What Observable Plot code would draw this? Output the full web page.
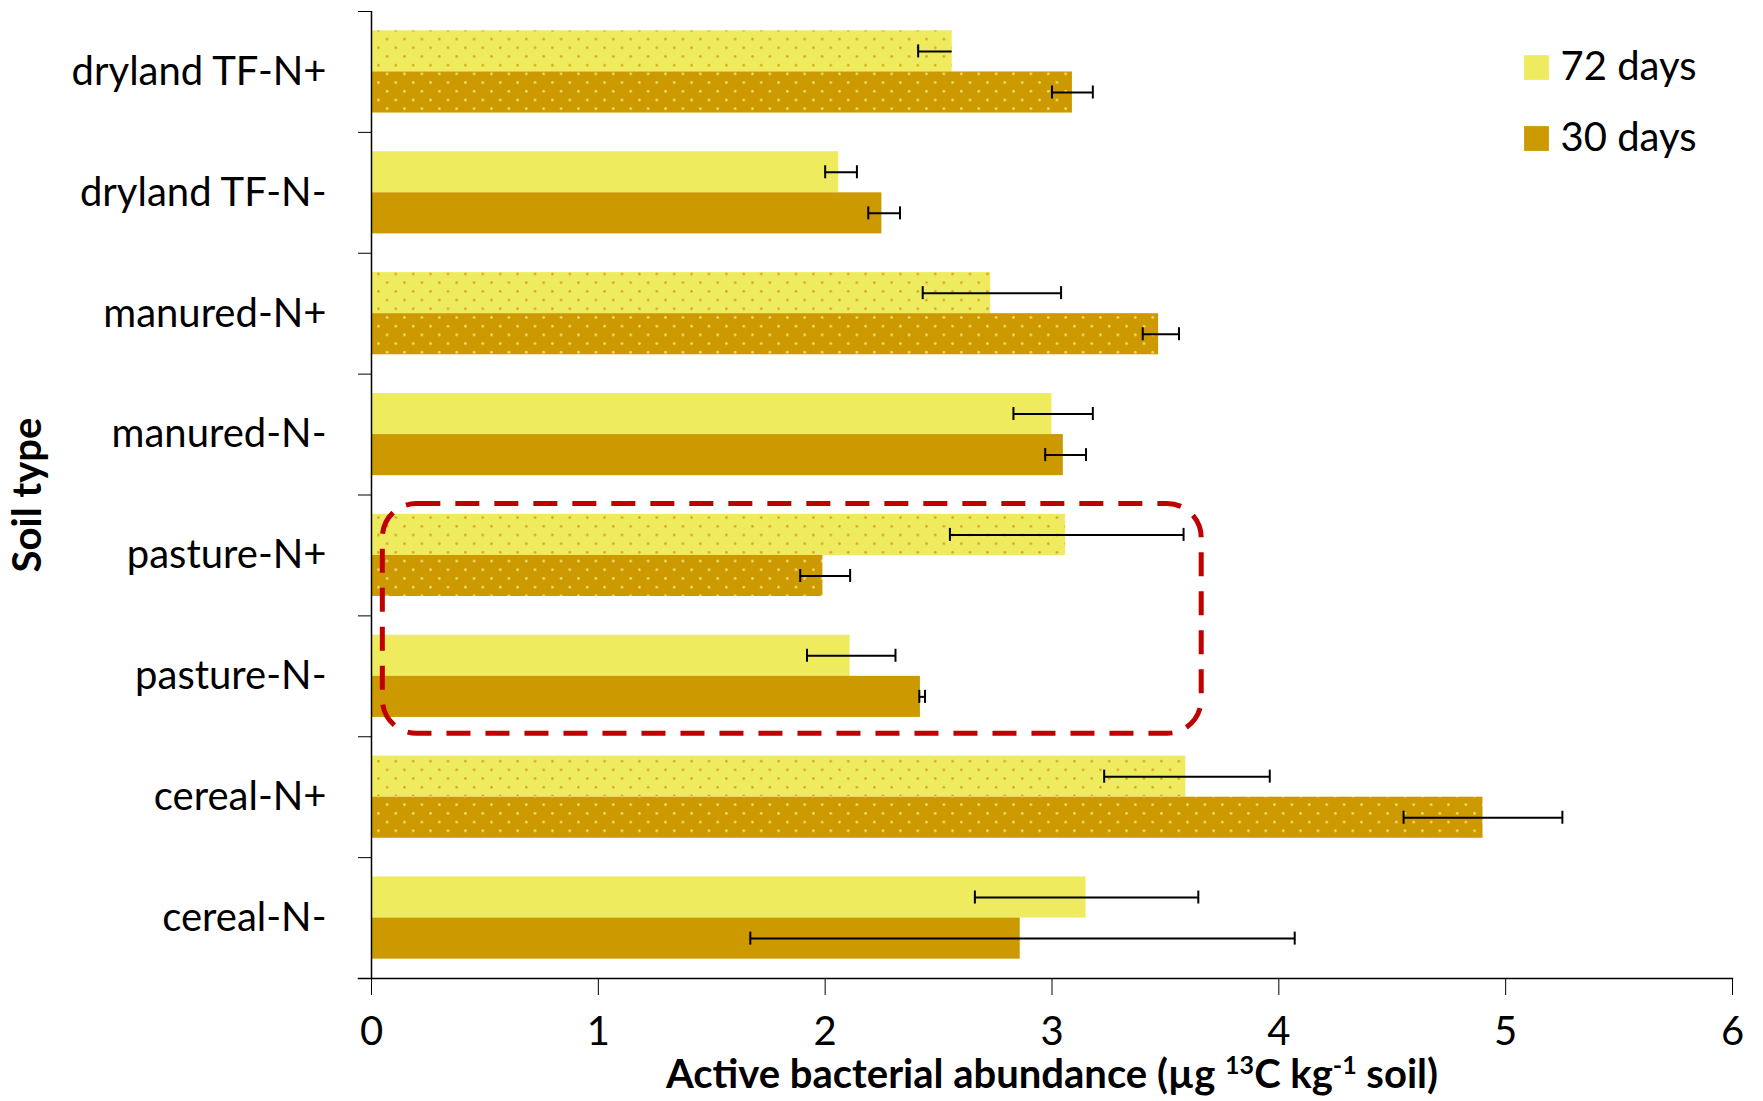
<!DOCTYPE html>
<html>
<head>
<meta charset="utf-8">
<script src="https://cdn.jsdelivr.net/npm/d3@7"></script>
<script src="https://cdn.jsdelivr.net/npm/@observablehq/plot@0.6"></script>
<style>
  html, body { margin: 0; padding: 0; background: #fff; }
  #chart svg { display: block; }
</style>
</head>
<body>
<div id="chart"></div>
<script>
// ---- data ----
const categories = ["dryland TF-N+", "dryland TF-N-", "manured-N+", "manured-N-", "pasture-N+", "pasture-N-", "cereal-N+", "cereal-N-"];
const series = ["72 days", "30 days"];
const colors = ["#EFEB5F", "#CC9900"];
const days72 = [2.56, 2.06, 2.73, 3.00, 3.06, 2.11, 3.59, 3.15];
const err72lo = [2.41, 2.00, 2.43, 2.83, 2.55, 1.92, 3.23, 2.66];
const err72hi = [2.56, 2.14, 3.04, 3.18, 3.58, 2.31, 3.96, 3.645];
const days30 = [3.09, 2.25, 3.47, 3.05, 1.99, 2.42, 4.90, 2.86];
const err30lo = [3.00, 2.19, 3.40, 2.97, 1.89, 2.415, 4.55, 1.67];
const err30hi = [3.18, 2.33, 3.56, 3.15, 2.11, 2.44, 5.25, 4.07];
const xTicks = [0, 1, 2, 3, 4, 5, 6];
const xLabel = "Active bacterial abundance (µg ¹³C kg⁻¹ soil)";
const yLabel = "Soil type";
const highlight = [{from: "pasture-N+", to: "pasture-N-", x1: 0.05, x2: 3.66}];

// ---- layout ----
const W = 1763, H = 1101;
const mL = 371, mR = 31, mT = 11, mB = 123;
const padIn = 0.32, padOut = 0.16;
const L = H - mT - mB;
const n = categories.length;
const step = L / (n - padIn + 2 * padOut);
const bw = step * (1 - padIn);
const half = bw / 2;
const offset0 = (L - step * (n - padIn)) / 2;   // top of first band within its slot
const FS = 40;

const rows72 = categories.map((c, i) => ({cat: c, value: days72[i], lo: err72lo[i], hi: err72hi[i], plus: c.endsWith("N+")}));
const rows30 = categories.map((c, i) => ({cat: c, value: days30[i], lo: err30lo[i], hi: err30hi[i], plus: c.endsWith("N+")}));

const capLen = 13;
function errMarks(rows, center) {
  const top = center - capLen / 2, bot = bw - center - capLen / 2;
  return [
    Plot.ruleY(rows, {y: "cat", x1: "lo", x2: "hi", dy: center - half, stroke: "#000", strokeWidth: 2}),
    Plot.tickX(rows, {y: "cat", x: "lo", insetTop: top, insetBottom: bot, stroke: "#000", strokeWidth: 2}),
    Plot.tickX(rows.filter(d => d.hi > d.value), {y: "cat", x: "hi", insetTop: top, insetBottom: bot, stroke: "#000", strokeWidth: 2})
  ];
}

// highlight box insets: from slot of "from" (+9px) to slot of "to" (-3px)
const spanSteps = categories.indexOf(highlight[0].to) - categories.indexOf(highlight[0].from);
const hlTop = -(offset0 - 9);
const hlBottom = -((spanSteps + 1) * step - 3 - (offset0 + bw));

const legendMarks = series.flatMap((s, i) => [
  Plot.dot([s], {frameAnchor: "top-right", dx: -196, dy: 56 + i * 71, symbol: "square", r: 14, fill: colors[i]}),
  Plot.text([s], {frameAnchor: "top-right", dx: -172, dy: 56 + i * 71, textAnchor: "start", lineAnchor: "middle", fontSize: FS, fill: "#000"})
]);

const chart = Plot.plot({
  width: W, height: H,
  marginLeft: mL, marginRight: mR, marginTop: mT, marginBottom: mB,
  style: {fontFamily: "Lato, 'Open Sans', sans-serif", fontSize: FS + "px", color: "#000", background: "#fff"},
  x: {domain: [0, 6]},
  y: {domain: categories, paddingInner: padIn, paddingOuter: padOut, align: 0.5, round: false},
  marks: [
    Plot.barX(rows72.filter(d => !d.plus), {x: "value", y: "cat", fill: colors[0], insetBottom: half}),
    Plot.barX(rows72.filter(d => d.plus), {x: "value", y: "cat", fill: "url(#dots72)", insetBottom: half}),
    Plot.barX(rows30.filter(d => !d.plus), {x: "value", y: "cat", fill: colors[1], insetTop: half}),
    Plot.barX(rows30.filter(d => d.plus), {x: "value", y: "cat", fill: "url(#dots30)", insetTop: half}),
    ...errMarks(rows72, bw / 4),
    ...errMarks(rows30, 3 * bw / 4),
    Plot.barX(highlight, {x1: "x1", x2: "x2", y: "from", insetTop: hlTop, insetBottom: hlBottom, fill: "none", stroke: "#C00000", strokeWidth: 5, strokeDasharray: "24,15", rx: 34}),
    Plot.ruleX([0], {stroke: "#000", strokeWidth: 1.5}),
    Plot.frame({anchor: "bottom", insetLeft: -13, stroke: "#000", strokeWidth: 1.5}),
    Plot.axisX({ticks: xTicks, tickSize: 17, tickPadding: 21, fontSize: FS, label: null, tickFormat: d3.format("d")}),
    Plot.axisY({tickSize: 0, tickPadding: 45, fontSize: FS, label: null}),
    Plot.axisY({tickSize: 13, tickFormat: () => "", label: null, dy: -step / 2}),
    Plot.text([yLabel], {frameAnchor: "left", dx: -343, rotate: -90, textAnchor: "middle", lineAnchor: "middle", fontWeight: "bold", fontSize: FS, fill: "#000"}),
    Plot.text([xLabel], {frameAnchor: "bottom", dy: 97, lineAnchor: "middle", fontWeight: "bold", fontSize: 40, fill: "#000"}),
    ...legendMarks
  ]
});

// pattern defs for the N+ (dotted) bars
const ns = "http://www.w3.org/2000/svg";
const defs = document.createElementNS(ns, "defs");
defs.innerHTML = `
<pattern id="dots72" patternUnits="userSpaceOnUse" width="17.4" height="17.4">
  <rect width="17.4" height="17.4" fill="${colors[0]}"/>
  <circle cx="4.3" cy="4.3" r="1.3" fill="#D8A321"/>
  <circle cx="13" cy="13" r="1.3" fill="#D8A321"/>
</pattern>
<pattern id="dots30" patternUnits="userSpaceOnUse" width="17.4" height="17.4">
  <rect width="17.4" height="17.4" fill="${colors[1]}"/>
  <circle cx="4.3" cy="4.3" r="1.3" fill="#F2E27A"/>
  <circle cx="13" cy="13" r="1.3" fill="#F2E27A"/>
</pattern>`;
chart.insertBefore(defs, chart.firstChild);

// superscripts in the x label
for (const t of chart.querySelectorAll("text")) {
  if (t.textContent === xLabel) {
    t.textContent = "";
    const parts = [["Active bacterial abundance (µg ", false], ["13", true], ["C kg", false], ["-1", true], [" soil)", false]];
    for (const [s, sup] of parts) {
      const ts = document.createElementNS(ns, "tspan");
      ts.textContent = s;
      if (sup) { ts.setAttribute("font-size", "25"); ts.setAttribute("dy", "-14"); }
      else if (t.childNodes.length) { ts.setAttribute("dy", "14"); }
      t.appendChild(ts);
    }
  }
}

document.getElementById("chart").appendChild(chart);
</script>
</body>
</html>
